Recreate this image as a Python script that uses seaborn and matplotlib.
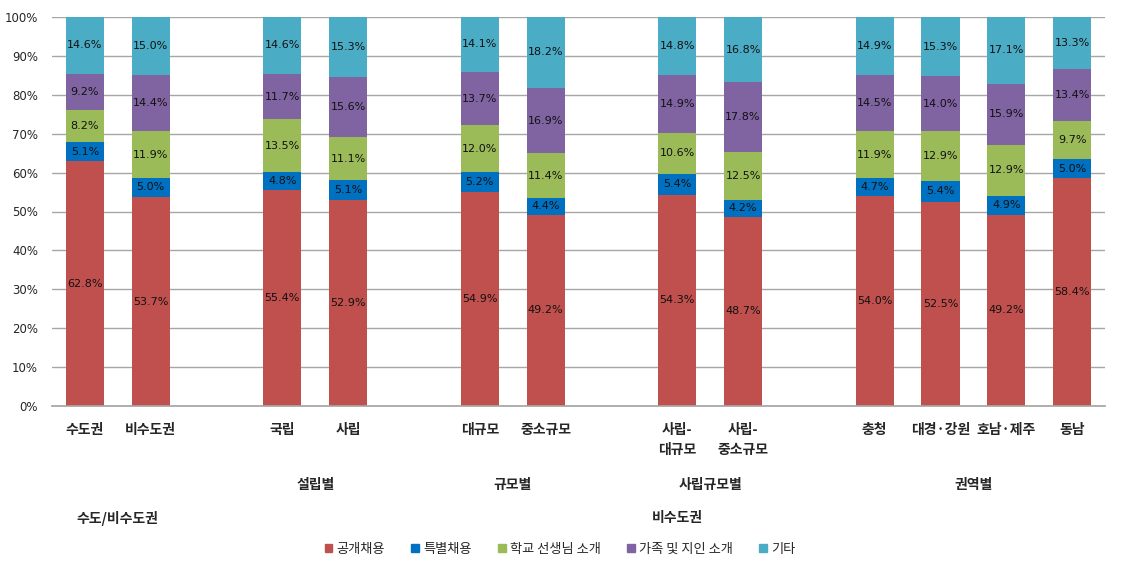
import numpy as np
import pandas as pd
import matplotlib
matplotlib.use("Agg")
import matplotlib.pyplot as plt
import matplotlib.patches as mpatches
import matplotlib.transforms as mtrans
import seaborn as sns

categories = ["수도권", "비수도권", "국립", "사립", "대규모", "중소규모",
              "사립-\n대규모", "사립-\n중소규모", "충청", "대경·강원", "호남·제주", "동남"]
slots = [0, 1, 3, 4, 6, 7, 9, 10, 12, 13, 14, 15]
series = ["공개채용", "특별채용", "학교 선생님 소개", "가족 및 지인 소개", "기타"]
public = [62.8, 53.7, 55.4, 52.9, 54.9, 49.2, 54.3, 48.7, 54.0, 52.5, 49.2, 58.4]
special = [5.1, 5.0, 4.8, 5.1, 5.2, 4.4, 5.4, 4.2, 4.7, 5.4, 4.9, 5.0]
teacher = [8.2, 11.9, 13.5, 11.1, 12.0, 11.4, 10.6, 12.5, 11.9, 12.9, 12.9, 9.7]
family = [9.2, 14.4, 11.7, 15.6, 13.7, 16.9, 14.9, 17.8, 14.5, 14.0, 15.9, 13.4]
other = [14.6, 15.0, 14.6, 15.3, 14.1, 18.2, 14.8, 16.8, 14.9, 15.3, 17.1, 13.3]
groups = [("수도/비수도권", 0, 1, 2), ("설립별", 3, 4, 1), ("규모별", 6, 7, 1),
          ("사립규모별", 9, 10, 1), ("권역별", 12, 15, 1), ("비수도권", 3, 15, 2)]
colors = ["#C0504D", "#0070C0", "#9BBB59", "#8064A2", "#4BACC6"]

sns.set_theme(style="white")
plt.rcParams["font.family"] = ["Noto Sans CJK KR", "DejaVu Sans"]

vals = np.array([public, special, teacher, family, other])
totals = vals.sum(axis=0)
pct = vals / totals * 100
cum = np.cumsum(pct, axis=0)

fig = plt.figure(figsize=(11.21, 5.71), dpi=100)
ax = fig.add_axes([52 / 1121, 165 / 571, 1053 / 1121, 389 / 571])

# draw from top cumulative down so each layer overlays
for i in range(len(series) - 1, -1, -1):
    df = pd.DataFrame({"x": slots, "y": cum[i]})
    sns.barplot(data=df, x="x", y="y", native_scale=True, color=colors[i],
                saturation=1, width=0.58, ax=ax, zorder=2, linewidth=0)

# data labels
for i in range(len(series)):
    base = cum[i] - pct[i]
    for j, x in enumerate(slots):
        ax.text(x, base[j] + pct[i][j] / 2, f"{vals[i][j]:.1f}%", ha="center", va="center",
                fontsize=8, color="#111111", family=["DejaVu Sans"], zorder=3)

ax.set_xlim(-0.5, 15.5)
ax.set_ylim(0, 100)
ax.set_yticks(np.arange(0, 101, 10))
ax.set_yticklabels([f"{v}%" for v in range(0, 101, 10)], fontsize=8.5, family=["DejaVu Sans"])
ax.yaxis.grid(True, color="#A6A6A6", linewidth=1, zorder=0)
ax.set_axisbelow(True)
ax.set_xticks(slots)
ax.set_xticklabels(categories, fontsize=10, fontweight="bold", linespacing=1.6)
ax.tick_params(axis="x", length=0, pad=12)
ax.tick_params(axis="y", length=0, pad=10)
ax.set_xlabel("")
ax.set_ylabel("")
for s in ["top", "right", "left"]:
    ax.spines[s].set_visible(False)
ax.spines["bottom"].set_color("#A6A6A6")

trans = mtrans.blended_transform_factory(ax.transData, fig.transFigure)
for name, a, b, row in groups:
    y = 1 - 485 / 571 if row == 1 else 1 - 518 / 571
    ax.text((a + b) / 2, y, name, transform=trans, ha="center", va="center",
            fontsize=10, fontweight="bold")

handles = [mpatches.Patch(color=c, label=s) for c, s in zip(colors, series)]
fig.legend(handles=handles, loc="center", bbox_to_anchor=(560 / 1121, 1 - 549 / 571),
           ncol=5, frameon=False, fontsize=9.5, handlelength=0.6, handleheight=0.6,
           handletextpad=0.3, columnspacing=2.0)

fig.savefig("out.png", dpi=100)
